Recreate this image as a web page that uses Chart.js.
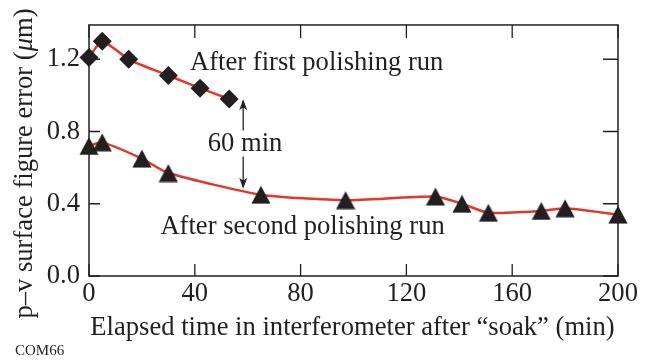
<!DOCTYPE html>
<html><head><meta charset="utf-8">
<script src="https://cdn.jsdelivr.net/npm/chart.js@4/dist/chart.umd.min.js"></script>
<style>html,body{margin:0;padding:0;background:#fff;}#wrap{width:654px;height:362px;}</style>
</head><body><div id="wrap"><canvas id="c" width="654" height="362"></canvas></div>
<script>
// ---- data ----
const firstRunTime = [0, 5, 15, 30, 42, 53];
const firstRunError = [1.21, 1.30, 1.20, 1.11, 1.04, 0.98];
const secondRunTime = [0, 5, 20, 30, 65, 97, 131, 141, 151, 171, 180, 200];
const secondRunError = [0.72, 0.74, 0.65, 0.57, 0.45, 0.42, 0.44, 0.40, 0.35, 0.36, 0.375, 0.34];
const xTickValues = [0, 40, 80, 120, 160, 200];
const yTickValues = [0.0, 0.4, 0.8, 1.2];
const xTitle = 'Elapsed time in interferometer after \u201csoak\u201d (min)';
const yTitleParts = [['p\u2013v surface figure error (', false], ['\u03bc', true], ['m)', false]];
const labelFirst = 'After first polishing run';
const labelSecond = 'After second polishing run';
const arrowLabel = '60 min';
const sourceCode = 'COM66';
// annotation anchors in data units
const labelFirstAt = [38.2, 1.14];
const labelSecondAt = [27.0, 0.234];
const arrowAt = [58.3, 0.978, 0.483];
const arrowLabelAt = [59.0, 0.69];

const SERIF = '"Liberation Serif", "Times New Roman", serif';
const FS = 26.6;
const INK = '#231f20';
const RED = '#e8342a';

function triangleImage() {
  const c = document.createElement('canvas');
  c.width = 20; c.height = 19;
  const g = c.getContext('2d');
  g.fillStyle = INK;
  g.beginPath(); g.moveTo(10, 0.5); g.lineTo(19.6, 18.5); g.lineTo(0.4, 18.5); g.closePath(); g.fill();
  return c;
}

const decor = {
  id: 'decor',
  beforeDatasetsDraw(chart) {
    const {ctx, chartArea: a, scales: {x, y}} = chart;
    ctx.save();
    ctx.strokeStyle = INK; ctx.lineWidth = 1.5;
    ctx.strokeRect(a.left, a.top, a.right - a.left, a.bottom - a.top);
    ctx.lineWidth = 1.3;
    ctx.beginPath();
    xTickValues.forEach(v => {
      const px = x.getPixelForValue(v);
      ctx.moveTo(px, a.bottom); ctx.lineTo(px, a.bottom - 12);
      ctx.moveTo(px, a.top); ctx.lineTo(px, a.top + 13);
    });
    yTickValues.forEach(v => {
      const py = y.getPixelForValue(v);
      ctx.moveTo(a.left, py); ctx.lineTo(a.left + 11, py);
      ctx.moveTo(a.right, py); ctx.lineTo(a.right - 15, py);
    });
    ctx.stroke();
    ctx.restore();
  },
  afterDraw(chart) {
    const {ctx, chartArea: a, scales: {x, y}} = chart;
    ctx.save();
    ctx.fillStyle = INK;
    ctx.textBaseline = 'alphabetic';
    ctx.font = FS + 'px ' + SERIF;
    ctx.textAlign = 'left';
    ctx.fillText(labelFirst, x.getPixelForValue(labelFirstAt[0]), y.getPixelForValue(labelFirstAt[1]));
    ctx.fillText(labelSecond, x.getPixelForValue(labelSecondAt[0]), y.getPixelForValue(labelSecondAt[1]));
    const ax = x.getPixelForValue(arrowAt[0]);
    const yTop = y.getPixelForValue(arrowAt[1]);
    const yBot = y.getPixelForValue(arrowAt[2]);
    ctx.textAlign = 'center';
    const ly = y.getPixelForValue(arrowLabelAt[1]);
    ctx.fillText(arrowLabel, x.getPixelForValue(arrowLabelAt[0]), ly);
    ctx.strokeStyle = INK; ctx.lineWidth = 1.3;
    ctx.beginPath();
    ctx.moveTo(ax, yTop + 2); ctx.lineTo(ax, ly - 21);
    ctx.moveTo(ax, ly + 5); ctx.lineTo(ax, yBot - 2);
    ctx.stroke();
    ctx.beginPath();
    ctx.moveTo(ax, yTop); ctx.lineTo(ax - 4, yTop + 11); ctx.lineTo(ax, yTop + 8); ctx.lineTo(ax + 4, yTop + 11); ctx.closePath();
    ctx.moveTo(ax, yBot); ctx.lineTo(ax - 4, yBot - 11); ctx.lineTo(ax, yBot - 8); ctx.lineTo(ax + 4, yBot - 11); ctx.closePath();
    ctx.fill();
    ctx.fillText(xTitle, (a.left + a.right) / 2 - 1, 335);
    ctx.save();
    ctx.translate(32, (a.top + a.bottom) / 2 + 13);
    ctx.rotate(-Math.PI / 2);
    ctx.textAlign = 'left';
    let total = 0;
    const parts = yTitleParts.map(([t, it]) => { const f = (it ? 'italic ' : '') + FS + 'px ' + SERIF; ctx.font = f; const w = ctx.measureText(t).width; total += w; return [t, f, w]; });
    let cx = -total / 2;
    parts.forEach(([t, f, w]) => { ctx.font = f; ctx.fillText(t, cx, 0); cx += w; });
    ctx.restore();
    ctx.font = '15px ' + SERIF;
    ctx.textAlign = 'left';
    ctx.fillText(sourceCode, 15, 355);
    ctx.restore();
  }
};

new Chart(document.getElementById('c'), {
  type: 'line',
  data: {
    datasets: [
      {
        label: labelFirst,
        data: firstRunTime.map((t, i) => ({x: t, y: firstRunError[i]})),
        borderColor: RED, borderWidth: 2.5, tension: 0.2, clip: false,
        pointStyle: 'rectRot', pointRadius: 9.5, pointBackgroundColor: INK, pointBorderColor: INK, pointBorderWidth: 0
      },
      {
        label: labelSecond,
        data: secondRunTime.map((t, i) => ({x: t, y: secondRunError[i]})),
        borderColor: RED, borderWidth: 2.5, tension: 0.2, clip: false,
        pointStyle: triangleImage(), pointRadius: 9, pointBackgroundColor: INK, pointBorderWidth: 0
      }
    ]
  },
  options: {
    responsive: false, animation: false, devicePixelRatio: 1,
    layout: {padding: {top: 19, right: 36, left: 0, bottom: 0}},
    plugins: {legend: {display: false}, tooltip: {enabled: false}},
    scales: {
      x: {
        type: 'linear', min: 0, max: 200,
        grid: {display: false, drawTicks: false}, border: {display: false},
        afterBuildTicks: s => { s.ticks = xTickValues.map(v => ({value: v})); },
        afterFit: s => { s.height = 86; },
        ticks: {color: INK, padding: 2, font: {family: SERIF, size: FS}, callback: v => String(v)}
      },
      y: {
        type: 'linear', min: 0, max: 1.39,
        grid: {display: false, drawTicks: false}, border: {display: false},
        afterBuildTicks: s => { s.ticks = yTickValues.map(v => ({value: v})); },
        afterFit: s => { s.width = 89; },
        ticks: {color: INK, padding: 9, font: {family: SERIF, size: FS}, callback: v => Number(v).toFixed(1)}
      }
    }
  },
  plugins: [decor]
});
</script></body></html>
